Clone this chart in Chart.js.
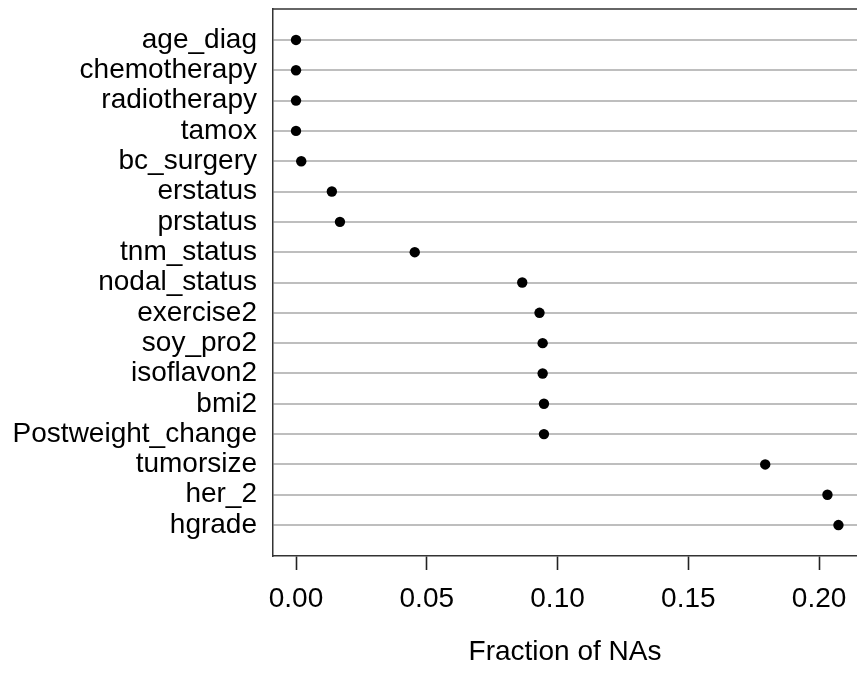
<!DOCTYPE html>
<html>
<head>
<meta charset="utf-8">
<title>Fraction of NAs by variable</title>
<script src="https://cdn.jsdelivr.net/npm/chart.js@4/dist/chart.umd.min.js"></script>
<style>
  html, body { margin: 0; padding: 0; background: #ffffff; }
  #wrap { width: 857px; height: 696px; }
</style>
</head>
<body>
<div id="wrap"><canvas id="chart" width="857" height="696"></canvas></div>
<script>
// Variables, top to bottom
const variables = [
  "age_diag", "chemotherapy", "radiotherapy", "tamox", "bc_surgery",
  "erstatus", "prstatus", "tnm_status", "nodal_status", "exercise2",
  "soy_pro2", "isoflavon2", "bmi2", "Postweight_change", "tumorsize",
  "her_2", "hgrade"
];

// Fraction of missing values per variable
const naFraction = [
  0.0000, 0.0000, 0.0000, 0.0000, 0.0020,
  0.0137, 0.0168, 0.0454, 0.0865, 0.0931,
  0.0943, 0.0943, 0.0948, 0.0948, 0.1794,
  0.2032, 0.2074
];

// Horizontal axis ticks
const xTicks = [0.00, 0.05, 0.10, 0.15, 0.20];

const FONT = "'Liberation Sans', Arial, Helvetica, sans-serif";

// Draws the top edge of the plotting frame
const topFrame = {
  id: "topFrame",
  afterDraw(chart) {
    const { ctx, chartArea } = chart;
    ctx.save();
    ctx.strokeStyle = "#333333";
    ctx.lineWidth = 1.5;
    ctx.beginPath();
    ctx.moveTo(chartArea.left, chartArea.top);
    ctx.lineTo(chartArea.right + 2, chartArea.top);
    ctx.stroke();
    ctx.restore();
  }
};

new Chart(document.getElementById("chart"), {
  type: "scatter",
  data: {
    datasets: [{
      data: variables.map((v, i) => ({ x: naFraction[i], y: i })),
      backgroundColor: "#000000",
      borderColor: "#000000",
      pointRadius: 5.2,
      pointHoverRadius: 5.2,
      borderWidth: 0
    }]
  },
  options: {
    responsive: false,
    animation: false,
    devicePixelRatio: 1,
    layout: { autoPadding: false, padding: { top: 9, right: 0, left: 0, bottom: 0 } },
    plugins: {
      legend: { display: false },
      tooltip: { enabled: false }
    },
    scales: {
      x: {
        type: "linear",
        min: -0.0088,
        max: 0.2145,
        afterBuildTicks(scale) {
          scale.ticks = xTicks.map(v => ({ value: v }));
        },
        afterFit(scale) {
          scale.height = 140;
          scale.paddingLeft = 0;
          scale.paddingRight = 0;
        },
        grid: {
          drawOnChartArea: false,
          drawTicks: true,
          tickLength: 14,
          tickColor: "#222222",
          tickWidth: 1.6
        },
        border: { display: true, color: "#333333", width: 1.5 },
        ticks: {
          color: "#000000",
          font: { family: FONT, size: 28 },
          padding: 12,
          maxRotation: 0,
          callback: v => Number(v).toFixed(2)
        },
        title: {
          display: true,
          text: "Fraction of NAs",
          color: "#000000",
          font: { family: FONT, size: 28 },
          padding: { top: 0, bottom: 27 }
        }
      },
      y: {
        type: "linear",
        reverse: true,
        min: -1.02,
        max: 17.02,
        afterBuildTicks(scale) {
          scale.ticks = variables.map((v, i) => ({ value: i }));
        },
        afterFit(scale) {
          scale.width = 273;
          scale.paddingTop = 0;
          scale.paddingBottom = 0;
        },
        grid: {
          color: "#bebebe",
          lineWidth: 2,
          drawTicks: false
        },
        border: { display: true, color: "#333333", width: 1.5 },
        ticks: {
          color: "#000000",
          font: { family: FONT, size: 28 },
          padding: 16,
          autoSkip: false,
          callback: v => variables[v]
        }
      }
    }
  },
  plugins: [topFrame]
});
</script>
</body>
</html>
